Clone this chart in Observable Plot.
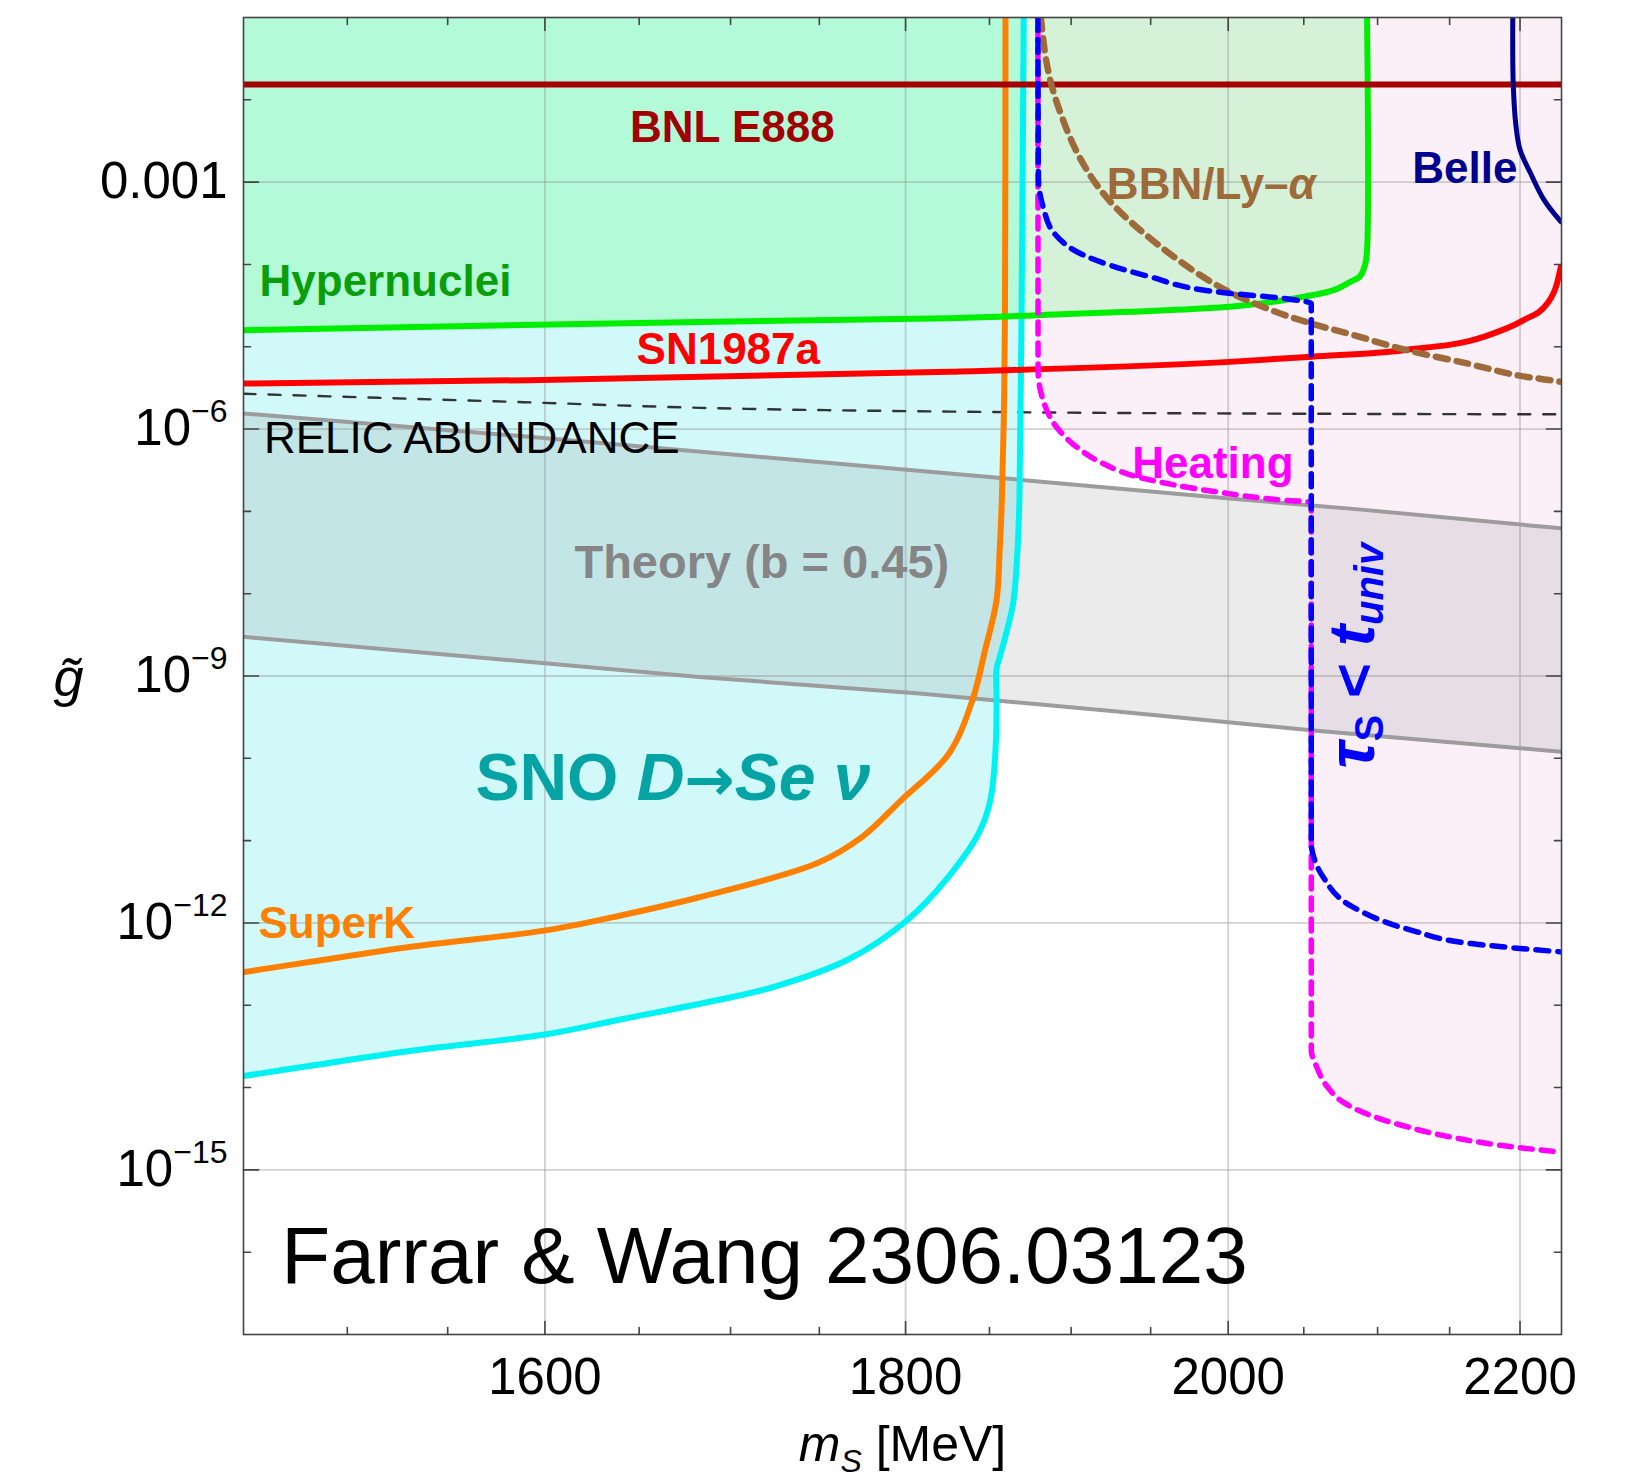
<!DOCTYPE html>
<html>
<head>
<meta charset="utf-8">
<script src="https://cdn.jsdelivr.net/npm/d3@7"></script>
<script src="https://cdn.jsdelivr.net/npm/@observablehq/plot@0.6"></script>
<style>
  html, body { margin: 0; padding: 0; background: #fff; }
  #chart svg { display: block; }
</style>
</head>
<body>
<div id="chart"></div>
<script>
// Exclusion limits on the sexaquark coupling g~ versus its mass m_S (MeV).
// Each curve is a list of [m_S, g] points.

const snoCurve = [[1450, 1.38e-14], [1482.2, 1.84e-14], [1533.5, 2.84e-14], [1600, 4.41e-14], [1641.3, 6.81e-14],
  [1692.3, 1.15e-13], [1722.5, 1.63e-13], [1766.3, 3.57e-13], [1800.9, 1.08e-12], [1825.5, 3.66e-12],
  [1843.6, 1.24e-11], [1850.5, 3.06e-11], [1853.7, 1.31e-10], [1854.3, 5.14e-10], [1854.3, 1.23e-9],
  [1856.2, 1.69e-9], [1860.0, 3.21e-9], [1864.4, 7.69e-9], [1867.0, 3.30e-8], [1868.2, 1.41e-7],
  [1869.5, 2.65e-5], [1870.8, 0.1]];

const superK = [[1450, 2.52e-13], [1482.2, 3.37e-13], [1533.5, 5.21e-13], [1599.5, 8.06e-13], [1641.3, 1.25e-12],
  [1682.6, 2.05e-12], [1749.0, 5.34e-12], [1774.7, 1.11e-11], [1797.2, 3.06e-11],
  [1825.5, 1.13e-10], [1839.8, 5.14e-10], [1847.4, 2.08e-9], [1854.3, 8.39e-9], [1856.2, 3.39e-8],
  [1857.5, 1.37e-7], [1858.7, 1.44e-6], [1859.4, 2.65e-5], [1859.7, 0.1]];

const hypernuclei = [[1450, 1.59e-5], [1682.6, 2.00e-5], [1826.1, 2.22e-5], [1880.3, 2.42e-5], [2001.0, 3.06e-5],
  [2036.7, 3.68e-5], [2070.1, 4.87e-5], [2081.4, 6.15e-5], [2087.8, 7.11e-5], [2091.4, 9.79e-5],
  [2092.8, 1.51e-4], [2092.8, 0.1]];

const sn1987a = [[1450, 3.57e-6], [1591.9, 3.93e-6], [1826.1, 4.97e-6], [2001.0, 6.55e-6], [2055.4, 7.57e-6],
  [2117.8, 9.09e-6], [2174.0, 1.32e-5], [2202.2, 2.09e-5], [2219.5, 3.33e-5], [2226.7, 5.88e-5], [2229.5, 9.37e-5]];

const bnlE888 = [[1450, 1.53e-2], [2230, 1.53e-2]];

const belle = [[2194.8, 0.1], [2195.1, 1.62e-2], [2197.0, 4.97e-3], [2200, 2.47e-3], [2207.5, 1.29e-3],
  [2217.2, 6.12e-4], [2229.5, 3.32e-4]];

const bbnLya = [[1881.3, 0.1], [1884.8, 2.84e-2], [1890.6, 9.98e-3], [1905.1, 2.03e-3], [1923.6, 6.04e-4],
  [1953.7, 1.80e-4], [1992.2, 5.64e-5], [2027.7, 2.81e-5], [2058.9, 1.83e-5], [2081.4, 1.42e-5],
  [2120.0, 9.10e-6], [2162.2, 6.27e-6], [2197.7, 4.51e-6], [2221.7, 3.93e-6], [2228.6, 3.77e-6]];

const tauUniv = [[1879.5, 0.1], [1879.8, 1.16e-3], [1882.9, 4.84e-4], [1889.9, 2.34e-4], [1907.3, 1.31e-4],
  [1949.3, 7.11e-5], [1992.2, 4.65e-5], [2036.3, 3.86e-5], [2055.0, 3.36e-5], [2055.0, 9.55e-12],
  [2056.8, 6.17e-12], [2062.8, 3.66e-12], [2082.9, 1.57e-12], [2123.6, 8.14e-13], [2165.1, 5.61e-13],
  [2229.5, 4.45e-13]];

const heating = [[1879.5, 0.1], [1879.6, 5.19e-6], [1882.7, 2.23e-6], [1890.9, 1.06e-6], [1903.3, 6.08e-7],
  [1917.7, 4.01e-7], [1945.3, 2.52e-7], [1992.2, 1.73e-7], [2036.3, 1.37e-7], [2055.0, 1.29e-7],
  [2055.0, 2.84e-14], [2058.6, 1.79e-14], [2065.2, 1.06e-14], [2076.5, 6.65e-15], [2094.9, 4.61e-15],
  [2115.7, 3.51e-15], [2150.5, 2.51e-15], [2185.8, 1.99e-15], [2229.5, 1.64e-15]];

const relicAbundance = [[1450, 2.68e-6], [1588.9, 2.12e-6], [1683.5, 1.81e-6], [1826.7, 1.63e-6],
  [2079.6, 1.53e-6], [2230, 1.51e-6]];

const theoryUpper = [[1450, 1.55e-6], [1591.9, 8.07e-7], [1826.1, 2.89e-7], [2001.0, 1.43e-7], [2081.4, 1.08e-7], [2230, 6.21e-8]];
const theoryLower = [[1450, 2.99e-9], [1682.8, 9.75e-10], [1808.2, 6.12e-10], [1930.4, 3.67e-10], [2054.7, 2.19e-10], [2230, 1.20e-10]];

// Axis ticks
const xMajor = [1600, 1800, 2000, 2200];
const xMinor = [1500, 1550, 1650, 1700, 1750, 1850, 1900, 1950, 2050, 2100, 2150];
const yMajor = [1e-3, 1e-6, 1e-9, 1e-12, 1e-15];
const yMinor = [1e-2, 1e-4, 1e-5, 1e-7, 1e-8, 1e-10, 1e-11, 1e-13, 1e-14, 1e-16];

// Annotations, anchored in data coordinates
const labels = {
  bnl: {text: "BNL E888", x: 1701, y: 4.61e-3},
  hyper: {text: "Hypernuclei", x: 1457.6, y: 6.19e-5},
  sn: {text: "SN1987a", x: 1648.6, y: 9.12e-6},
  relic: {text: "RELIC ABUNDANCE", x: 1459.7, y: 7.51e-7},
  theory: {text: "Theory (b = 0.45)", x: 1615.5, y: 2.36e-8},
  sno: {text: "SNO D→Seν", x: 1564.1, y: 5.68e-11},
  superk: {text: "SuperK", x: 1457.1, y: 9.84e-13},
  heat: {text: "Heating", x: 1938.3, y: 3.81e-7},
  bbn: {text: "BBN/Ly–α", x: 1922.3, y: 9.22e-4},
  belle: {text: "Belle", x: 2123.9, y: 1.46e-3},
  tau: {text: "τS < tuniv", x: 2084.3, y: 1.77e-9},
  credit: {text: "Farrar & Wang 2306.03123", x: 1468.0, y: 8.53e-17}
};

const X = d => d[0], Y = d => d[1];
const tickLine = {draw(context, l) { context.moveTo(0, 0); context.lineTo(0, -l); }};
const tickMarks = (values, anchor, rotate, length) => Plot.vector(values, {
  [anchor === "top" || anchor === "bottom" ? "x" : "y"]: d => d,
  frameAnchor: anchor, rotate, length, anchor: "start", shape: tickLine,
  stroke: "#444", strokeWidth: 1.6
});
// smooth splines through the points; monotone-y where a long vertical run meets a bend
const SMOOTH = "catmull-rom";
const curve = (data, stroke, strokeWidth, dash, extra = {}) =>
  Plot.line(data, {x: X, y: Y, stroke, strokeWidth, strokeDasharray: dash, curve: SMOOTH, clip: true, ...extra});
const region = (data, fill, opacity = 1) =>
  Plot.areaY(data, {x: X, y1: Y, y2: 0.1, fill, fillOpacity: opacity, clip: true});
const label = (l, opts) => Plot.text([l], {x: "x", y: "y", text: "text", fontSize: 44, fontWeight: "bold", lineAnchor: "middle", ...opts});

const theoryBand = theoryUpper.map((u, i) => ({x1: u[0], y1: u[1], x2: theoryLower[i][0], y2: theoryLower[i][1]}));

const chart = Plot.plot({
  width: 1630,
  height: 1481,
  marginLeft: 243,
  marginRight: 69,
  marginTop: 17,
  marginBottom: 147,
  style: "background:#fff; font-family:'Liberation Sans', Arial, Helvetica, sans-serif;",
  x: {type: "log", domain: [1450, 2230]},
  y: {type: "log", domain: [1e-17, 0.1]},
  marks: [
    // excluded regions
    region(heating, "#fbeff8"),
    region(snoCurve, "#d2f9f9"),
    region(hypernuclei, "rgb(29,254,62)", 0.167),
    Plot.area(theoryBand, {x1: "x1", y1: "y1", x2: "x2", y2: "y2", fill: "#656565", fillOpacity: 0.13, clip: true}),

    // grid
    Plot.ruleX(xMajor, {stroke: "#9a9a9a", strokeOpacity: 0.45, strokeWidth: 1.8}),
    Plot.ruleY(yMajor, {stroke: "#9a9a9a", strokeOpacity: 0.45, strokeWidth: 1.8}),

    // curves
    curve(relicAbundance, "#333", 2.4, "12,13", {curve: "monotone-x"}),
    curve(theoryUpper, "#9c9c9c", 4, null, {curve: "linear"}),
    curve(theoryLower, "#9c9c9c", 4, null, {curve: "linear"}),
    curve(snoCurve, "#00f2f2", 6),
    curve(superK, "#ff8000", 6),
    curve(hypernuclei, "#00ee00", 6),
    curve(sn1987a, "#ff0000", 6, null, {curve: "monotone-x"}),
    curve(bnlE888, "#a50000", 6, null, {curve: "linear"}),
    curve(belle, "#00008f", 5),
    curve(bbnLya, "#9e6a3a", 6.5, "12,9"),
    curve(heating, "#ff00ff", 5.5, "12,9", {strokeDashoffset: 10.5, curve: "monotone-y"}),
    curve(tauUniv, "#0000ff", 5.5, "13,9", {curve: "monotone-y"}),

    // frame, ticks, axes
    Plot.frame({stroke: "#444", strokeWidth: 1.6}),
    tickMarks(xMajor, "bottom", 0, 13), tickMarks(xMinor, "bottom", 0, 7),
    tickMarks(xMajor, "top", 180, 13), tickMarks(xMinor, "top", 180, 7),
    tickMarks(yMajor, "left", 90, 15), tickMarks(yMinor, "left", 90, 7),
    tickMarks(yMajor, "right", -90, 15), tickMarks(yMinor, "right", -90, 7),
    Plot.axisX({ticks: xMajor, tickFormat: d => String(d), tickSize: 0, tickPadding: 23, fontSize: 51, label: null}),
    Plot.axisY({ticks: yMajor, tickFormat: d => d === 1e-3 ? "0.001" : "10^" + Math.round(Math.log10(d)),
      tickSize: 0, tickPadding: 16, fontSize: 51, label: null}),
    Plot.text(["m_S [MeV]"], {text: d => d, frameAnchor: "bottom", textAnchor: "middle", lineAnchor: "middle", dy: 110, fontSize: 50}),
    Plot.text(["g̃"], {text: d => d, frameAnchor: "left", textAnchor: "middle", lineAnchor: "middle", dx: -175, dy: 3, fontSize: 54, fontStyle: "italic"}),

    // annotations
    label(labels.bnl, {fill: "#a00000", textAnchor: "middle"}),
    label(labels.hyper, {fill: "#0b9e0b", textAnchor: "start"}),
    label(labels.sn, {fill: "#ff0000", textAnchor: "start"}),
    label(labels.relic, {fill: "#000", textAnchor: "start", fontWeight: "normal"}),
    label(labels.theory, {fill: "#858585", textAnchor: "start", fontSize: 47}),
    label(labels.sno, {fill: "#05a3a3", textAnchor: "start", fontSize: 66}),
    label(labels.superk, {fill: "#ff8000", textAnchor: "start"}),
    label(labels.heat, {fill: "#ff00ff", textAnchor: "start"}),
    label(labels.bbn, {fill: "#9e6a3a", textAnchor: "start"}),
    label(labels.belle, {fill: "#00008f", textAnchor: "start"}),
    label(labels.tau, {fill: "#0000ff", textAnchor: "middle", rotate: -90, fontSize: 60}),
    label(labels.credit, {fill: "#000", textAnchor: "start", fontWeight: "normal", fontSize: 80})
  ]
});

// Rich text: italics, sub- and superscripts
const SVGNS = "http://www.w3.org/2000/svg";
function rich(el, parts) {
  el.textContent = "";
  for (const p of parts) {
    const ts = document.createElementNS(SVGNS, "tspan");
    ts.textContent = p.t;
    if (p.style) ts.setAttribute("font-style", p.style);
    if (p.weight) ts.setAttribute("font-weight", p.weight);
    if (p.size) ts.setAttribute("font-size", p.size);
    if (p.family) ts.setAttribute("font-family", p.family);
    if (p.dy) ts.setAttribute("dy", p.dy);
    el.appendChild(ts);
  }
}
const richText = {
  "m_S [MeV]": [{t: "m", style: "italic"}, {t: "S", style: "italic", size: 32, dy: 11}, {t: " [MeV]", dy: -11}],
  "SNO D→Seν": [{t: "SNO "}, {t: "D", style: "italic"}, {t: "→", family: "DejaVu Sans", size: 60},
    {t: "Se", style: "italic"}, {t: " ν", style: "italic"}],
  "BBN/Ly–α": [{t: "BBN/Ly–"}, {t: "α", style: "italic"}],
  "τS < tuniv": [{t: "τ", style: "italic", size: 66}, {t: "S", size: 40, dy: 9}, {t: " < ", dy: -9},
    {t: "t", style: "italic", size: 64}, {t: "univ", style: "italic", size: 40, dy: 9}]
};
chart.querySelectorAll("text").forEach(t => {
  const s = t.textContent;
  if (richText[s]) rich(t, richText[s]);
  else if (/^10\^/.test(s)) rich(t, [{t: "10"}, {t: s.slice(3).replace("-", "−"), size: 32, dy: -23}]);
});

document.getElementById("chart").appendChild(chart);
</script>
</body>
</html>
